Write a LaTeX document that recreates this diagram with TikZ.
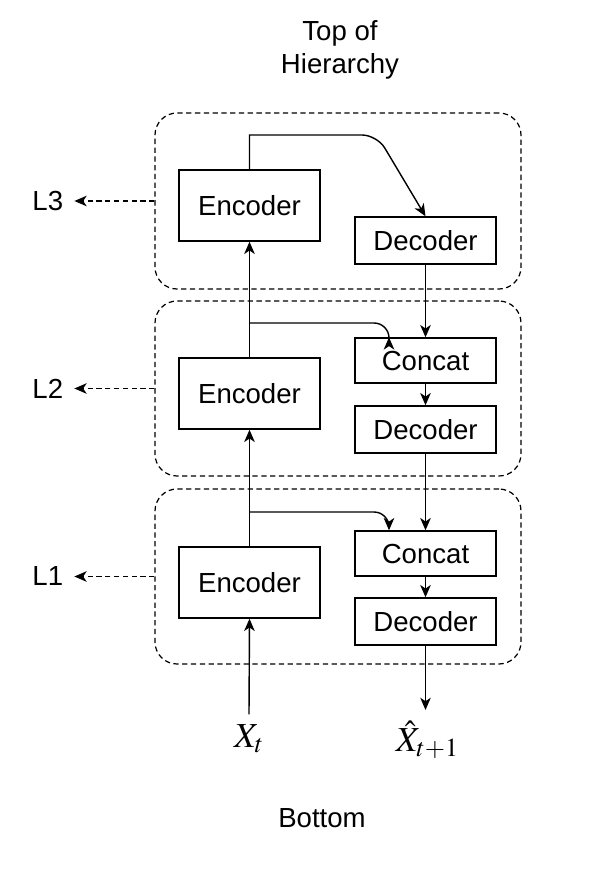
\documentclass[tikz,border=0pt]{standalone}
\usepackage{mathptmx}
\usepackage{fontspec}
\setmainfont{Liberation Sans}
\usetikzlibrary{arrows.meta,positioning}
\tikzset{block/.style={draw,rectangle,line width=0.8pt,minimum width=2.82cm,inner sep=0},
    layer/.style={draw,rectangle,rounded corners=0.44cm,line width=0.7pt,dash pattern=on 3pt off 2pt,minimum width=7.32cm,minimum height=3.5cm},
    arr/.style={line width=0.8pt,-{Stealth[length=7pt,width=6pt,inset=2pt]}},
    dasharr/.style={line width=0.7pt,dash pattern=on 3pt off 2pt,-{Stealth[length=7pt,width=6pt,inset=2pt]}},
    lbl/.style={font=\fontsize{15.7}{18.8}\selectfont},
    mathlbl/.style={font=\fontsize{20}{24}\selectfont,inner sep=0}}

\begin{document}
\begin{tikzpicture}[lbl]
\useasboundingbox (0,0) rectangle (12.06,-17.58);

\node (top) [align=center] at (6.8,-1.0) {Top of\\Hierarchy};
\node (bottom) at (6.44,-16.36) {Bottom};

\node (lay3) [layer,minimum height=3.52cm] at (6.76,-4.02) {};
\node (lay2) [layer] at (6.76,-7.77) {};
\node (lay1) [layer] at (6.76,-11.53) {};

\node (lbl3) [left=1.7cm of lay3.west] {L3};
\node (lbl2) [left=1.7cm of lay2.west] {L2};
\node (lbl1) [left=1.7cm of lay1.west] {L1};
\draw [dasharr,shorten >=0.1cm] (lay3.west) -- (lbl3.east);
\draw [dasharr,shorten >=0.1cm] (lay2.west) -- (lbl2.east);
\draw [dasharr,shorten >=0.1cm] (lay1.west) -- (lbl1.east);

\node (enc3) [block,minimum height=1.42cm] at (4.99,-4.11) {Encoder};
\node (dec3) [block,minimum height=0.94cm] at (8.51,-4.81) {Decoder};

\node (enc2) [block,minimum height=1.42cm] at (4.99,-7.87) {Encoder};
\node (cat2) [block,minimum height=0.9cm] at (8.51,-7.21) {Concat};
\node (dec2) [block,minimum height=0.94cm] at (8.51,-8.59) {Decoder};

\node (enc1) [block,minimum height=1.42cm] at (4.99,-11.65) {Encoder};
\node (cat1) [block,minimum height=0.9cm] at (8.51,-11.07) {Concat};
\node (dec1) [block,minimum height=0.94cm] at (8.51,-12.43) {Decoder};

\node (xin) [mathlbl] at (4.98,-14.78) {$X_t$};
\node (xout) [mathlbl] at (8.55,-14.8) {$\hat{X}_{t+1}$};

% upward path through the encoders
\draw [arr] ([yshift=0.2cm]xin.north) -- (enc1.south);
\draw [arr] (enc1.north) -- (enc2.south);
\draw [arr] (enc2.north) -- (enc3.south);

% top of hierarchy goes over to the decoder
\coordinate (bend3) at (7.54,-2.7);
\draw [arr] (enc3.north) -- (enc3.north |- bend3) [rounded corners=0.3cm] -- (bend3) -- (dec3.north);

% skip connections into concat
\coordinate (br2) at (4.99,-6.46);
\coordinate (br1) at (4.99,-10.24);
\draw [arr,rounded corners=0.3cm] (br2) -| ([xshift=-0.73cm]cat2.north);
\draw [arr,rounded corners=0.3cm] (br1) -| ([xshift=-0.73cm]cat1.north);

% downward path through the decoders
\draw [arr] (dec3.south) -- (cat2.north);
\draw [arr] (cat2.south) -- (dec2.north);
\draw [arr] (dec2.south) -- (cat1.north);
\draw [arr] (cat1.south) -- (dec1.north);
\draw [arr] (dec1.south) -- (8.51,-14.2);

\end{tikzpicture}
\end{document}
